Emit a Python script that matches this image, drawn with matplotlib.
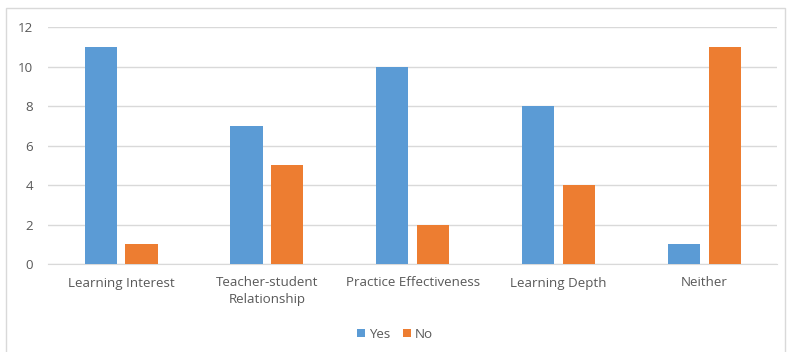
import matplotlib.pyplot as plt
import matplotlib.patches as mpatches
import numpy as np

categories = ['Learning Interest', 'Teacher-student\nRelationship', 'Practice Effectiveness',
              'Learning Depth', 'Neither']
yes_values = [11, 7, 10, 8, 1]
no_values = [1, 5, 2, 4, 11]

yes_color = '#5b9bd5'
no_color = '#ed7d31'
text_color = '#595959'
grid_color = '#d9d9d9'

plt.rcParams['font.family'] = ['Open Sans', 'DejaVu Sans']

fig = plt.figure(figsize=(7.9, 3.52), dpi=100)
ax = fig.add_axes([0.061, 0.25, 0.923, 0.673])

# outer chart border
fig.patches.append(mpatches.Rectangle((6 / 790, -0.01), 779 / 790, 1 - 8 / 352 + 0.01,
                                      transform=fig.transFigure, fill=False,
                                      edgecolor='#d9d9d9', linewidth=1))

x = np.arange(len(categories))
width = 0.22
ax.bar(x - 0.14, yes_values, width, color=yes_color, label='Yes', zorder=3)
ax.bar(x + 0.14, no_values, width, color=no_color, label='No', zorder=3)

ax.set_xlim(-0.5, len(categories) - 0.5)
ax.set_ylim(0, 12)
ax.set_yticks(np.arange(0, 13, 2))
ax.set_xticks(x)
ax.set_xticklabels(categories, linespacing=1.3)
ax.tick_params(axis='both', length=0, colors=text_color, labelsize=9.6)
ax.tick_params(axis='x', pad=9)
ax.tick_params(axis='y', pad=11)
ax.grid(axis='y', color=grid_color, linewidth=1, zorder=0)
for side in ['top', 'right', 'left']:
    ax.spines[side].set_visible(False)
ax.spines['bottom'].set_color(grid_color)

leg = fig.legend(loc='center', bbox_to_anchor=(0.5, 0.05), ncol=2, frameon=False,
                 fontsize=9.6, handlelength=0.6, handleheight=0.6, handletextpad=0.3,
                 columnspacing=1.0)
for t in leg.get_texts():
    t.set_color(text_color)

fig.savefig('out.png', dpi=100)
